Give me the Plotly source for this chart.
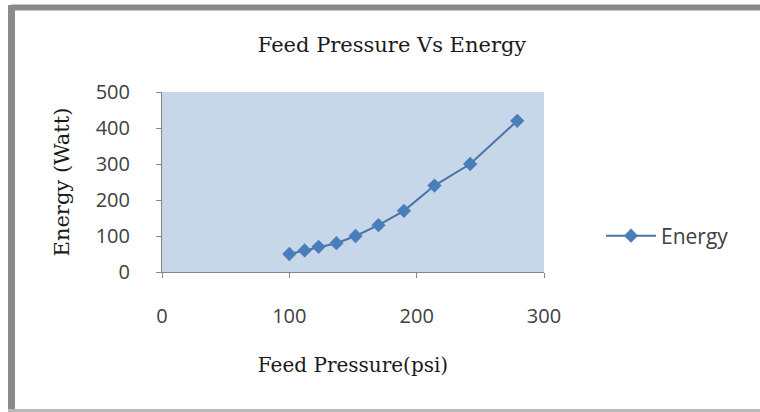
import plotly.graph_objects as go

pressure = [100, 112, 123, 137, 152, 170, 190, 214, 242, 279]
energy = [50, 60, 70, 80, 100, 130, 170, 240, 300, 420]
x_ticks = [0, 100, 200, 300]
y_ticks = [0, 100, 200, 300, 400, 500]

W, H = 760, 412
L, R, T, B = 162, 216, 92, 140
pw, ph = W - L - R, H - T - B

def px(x):
    return (x - L) / pw

def py(y):
    return (H - B - y) / ph

fig = go.Figure()
fig.add_trace(go.Scatter(
    x=pressure, y=energy, mode="lines+markers", name="Energy",
    line=dict(color="#4a74a8", width=2),
    marker=dict(symbol="diamond", size=11, color="#4a7ebb"),
))

serif = "DejaVu Serif, Liberation Serif, serif"
sans = "Open Sans, Liberation Sans, sans-serif"

fig.update_layout(
    width=W, height=H,
    margin=dict(l=L, r=R, t=T, b=B),
    paper_bgcolor="white",
    plot_bgcolor="#c6d7ea",
    title=dict(text="Feed Pressure Vs Energy", x=392 / W, xanchor="center",
               y=1 - 45 / H, yanchor="middle",
               font=dict(family=serif, size=21, color="#1a1a1a")),
    xaxis=dict(range=[0, 300], tickvals=x_ticks, showgrid=False, zeroline=False,
               showline=True, linecolor="#868686", linewidth=1,
               ticks="outside", ticklen=5, tickcolor="#868686",
               ticklabelstandoff=21,
               tickfont=dict(family=sans, size=20, color="#404040"),
               title=dict(text="Feed Pressure(psi)", standoff=29,
                          font=dict(family=serif, size=20, color="#1a1a1a"))),
    yaxis=dict(range=[0, 500], tickvals=y_ticks, showgrid=False, zeroline=False,
               showline=True, linecolor="#868686", linewidth=1,
               ticks="outside", ticklen=5, tickcolor="#868686",
               ticklabelstandoff=22,
               tickfont=dict(family=sans, size=20, color="#404040"),
               title=dict(text="Energy (Watt)", standoff=20,
                          font=dict(family=serif, size=21, color="#1a1a1a"))),
    legend=dict(x=px(601), y=py(236), xanchor="left", yanchor="middle",
                bgcolor="rgba(0,0,0,0)", itemwidth=50,
                font=dict(family=sans, size=21, color="#404040")),
    showlegend=True,
)

# outer frame
fig.add_shape(type="line", xref="paper", yref="paper",
              x0=px(11.5), x1=px(800), y0=py(7.5), y1=py(7.5),
              line=dict(color="#8a8a8a", width=6))
fig.add_shape(type="line", xref="paper", yref="paper",
              x0=px(11.5), x1=px(11.5), y0=py(5), y1=py(420),
              line=dict(color="#8a8a8a", width=7))
fig.add_shape(type="line", xref="paper", yref="paper",
              x0=px(8), x1=px(800), y0=py(410.5), y1=py(410.5),
              line=dict(color="#b8b8b8", width=3))

fig.write_html("out.html")
